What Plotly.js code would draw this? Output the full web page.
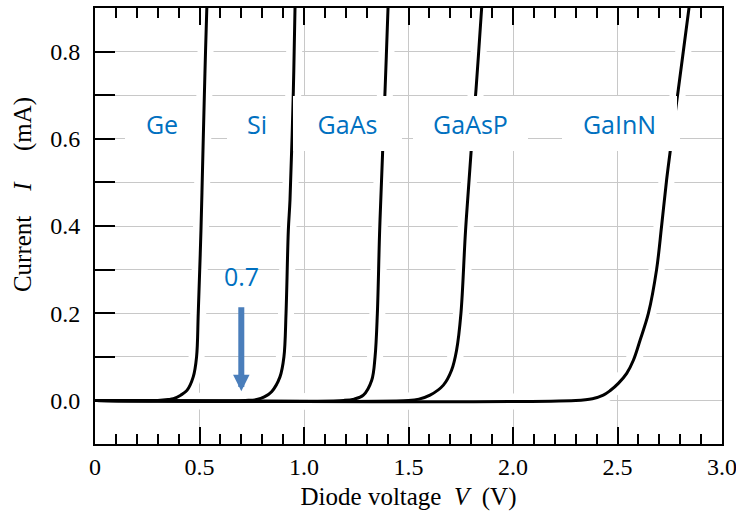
<!DOCTYPE html>
<html><head><meta charset="utf-8">
<script src="https://cdn.plot.ly/plotly-3.0.1.min.js"></script>
<style>html,body{margin:0;padding:0;background:#fff}</style>
</head><body><div id="chart" style="width:736px;height:511px"></div>
<script>
// ---- data (V in volts, I in mA) ----
const materials = ['Ge', 'Si', 'GaAs', 'GaAsP', 'GaInN'];
const geV    = [0, 0.30, 0.35, 0.375, 0.41, 0.44, 0.47, 0.486, 0.494, 0.507, 0.518, 0.526, 0.535, 0.54];
const geI    = [0, 0, 0.002, 0.004, 0.012, 0.023, 0.054, 0.10, 0.20, 0.39, 0.60, 0.75, 0.90, 0.96];
const siV    = [0, 0.72, 0.774, 0.81, 0.845, 0.885, 0.904, 0.914, 0.925, 0.933, 0.949, 0.957, 0.961];
const siI    = [0, 0, 0.002, 0.008, 0.02, 0.054, 0.10, 0.20, 0.39, 0.46, 0.71, 0.90, 0.96];
const gaasV  = [0, 1.19, 1.24, 1.284, 1.324, 1.34, 1.351, 1.362, 1.376, 1.388, 1.402, 1.406];
const gaasI  = [0, 0, 0.003, 0.012, 0.046, 0.10, 0.20, 0.39, 0.567, 0.713, 0.90, 0.96];
const gaaspV = [0, 1.50, 1.55, 1.603, 1.667, 1.706, 1.730, 1.751, 1.773, 1.799, 1.823, 1.85, 1.858];
const gaaspI = [0, 0, 0.003, 0.012, 0.035, 0.069, 0.115, 0.20, 0.39, 0.567, 0.713, 0.90, 0.96];
const gainnV = [0, 2.30, 2.38, 2.432, 2.464, 2.504, 2.544, 2.576, 2.608, 2.648, 2.687, 2.711, 2.735, 2.751, 2.791, 2.842, 2.858];
const gainnI = [0, 0, 0.004, 0.012, 0.022, 0.039, 0.062, 0.092, 0.138, 0.20, 0.30, 0.40, 0.506, 0.567, 0.713, 0.90, 0.96];
const markerValue = '0.7';     // annotated voltage
const markerV = 0.7;

// ---- layout helpers (positions / styles, not data) ----
const labelPos = {
  Ge:    {x: 0.321, y: 0.634, w: 74},
  Si:    {x: 0.775, y: 0.634, w: 60},
  GaAs:  {x: 1.208, y: 0.634, w: 109},
  GaAsP: {x: 1.797, y: 0.634, w: 115},
  GaInN: {x: 2.510, y: 0.634, w: 115}
};
const boxH = 55;

const series = [[geV, geI], [siV, siI], [gaasV, gaasI], [gaaspV, gaaspI], [gainnV, gainnI]];
const traces = [];
series.forEach(([v, i]) => traces.push({
  x: v, y: i, type: 'scatter', mode: 'lines', hoverinfo: 'skip', showlegend: false,
  line: {color: '#ffffff', width: 16, shape: 'spline', smoothing: 1}
}));
series.forEach(([v, i], k) => traces.push({
  x: v, y: i, type: 'scatter', mode: 'lines', name: materials[k], showlegend: false,
  line: {color: '#000000', width: 3, shape: 'spline', smoothing: 1}
}));

const serifFam = 'Liberation Serif, Times New Roman, serif';
const serif = {family: serifFam, size: 24, color: '#000'};
const blueFont = {family: 'Open Sans, sans-serif', size: 25, color: '#0070C0'};
const grid = '#c8c8c8';
const nb = '\u00a0';

const annotations = materials.map(m => ({
  x: labelPos[m].x, y: labelPos[m].y, xref: 'x', yref: 'y',
  text: m, showarrow: false, font: blueFont,
  bgcolor: '#ffffff', borderwidth: 0, borderpad: 0,
  width: labelPos[m].w, height: boxH
}));
annotations.push({
  x: markerV, y: 0.285, xref: 'x', yref: 'y', text: markerValue, showarrow: false, font: blueFont
});
annotations.push({
  x: markerV, y: 0.021, xref: 'x', yref: 'y', ax: markerV, ay: 0.217, axref: 'x', ayref: 'y',
  text: '', showarrow: true, arrowhead: 2, arrowsize: 0.55, arrowwidth: 6, arrowcolor: '#4A7EBB', standoff: 0
});
// y-axis title (placed as in the reference, above the axis centre)
annotations.push({
  xref: 'paper', yref: 'paper', x: -0.1148, y: 0.571, xanchor: 'center', yanchor: 'middle',
  textangle: -90, showarrow: false,
  text: 'Current' + nb.repeat(4) + '<i>I</i>' + nb.repeat(5) + '(mA)',
  font: {family: serifFam, size: 25, color: '#000'}
});

const layout = {
  width: 736, height: 511,
  margin: {l: 95, r: 14, t: 8, b: 67},
  paper_bgcolor: '#fff', plot_bgcolor: '#fff',
  xaxis: {
    range: [0, 3], tickmode: 'linear', tick0: 0, dtick: 0.5, tickformat: '.1f',
    labelalias: {'0.0': '0'}, ticklabeloverflow: 'allow',
    ticks: 'inside', ticklen: 17, tickwidth: 2, tickcolor: '#000',
    showline: true, linewidth: 2, linecolor: '#000', mirror: 'ticks',
    showgrid: true, gridcolor: grid, gridwidth: 1, zeroline: false,
    minor: {tickmode: 'linear', tick0: 0, dtick: 0.1, ticks: 'inside', ticklen: 10, tickwidth: 2, tickcolor: '#000', showgrid: false},
    tickfont: serif, ticklabelstandoff: 0,
    title: {text: 'Diode voltage' + nb + ' <i>V</i>' + nb + ' (V)', font: {family: serifFam, size: 25, color: '#000'}, standoff: 9}
  },
  yaxis: {
    range: [-0.1, 0.9], tickmode: 'linear', tick0: 0, dtick: 0.2, tickformat: '.1f',
    ticks: 'inside', ticklen: 20, tickwidth: 2, tickcolor: '#000',
    showline: true, linewidth: 2, linecolor: '#000', mirror: true,
    showgrid: true, gridcolor: grid, gridwidth: 1, zeroline: false,
    minor: {tickmode: 'linear', tick0: 0, dtick: 0.1, ticks: 'inside', ticklen: 20, tickwidth: 2, tickcolor: '#000', showgrid: true, gridcolor: grid, gridwidth: 1},
    tickfont: serif, ticklabelstandoff: 8
  },
  annotations: annotations
};

Plotly.newPlot('chart', traces, layout, {staticPlot: true, displayModeBar: false});
</script></body></html>
